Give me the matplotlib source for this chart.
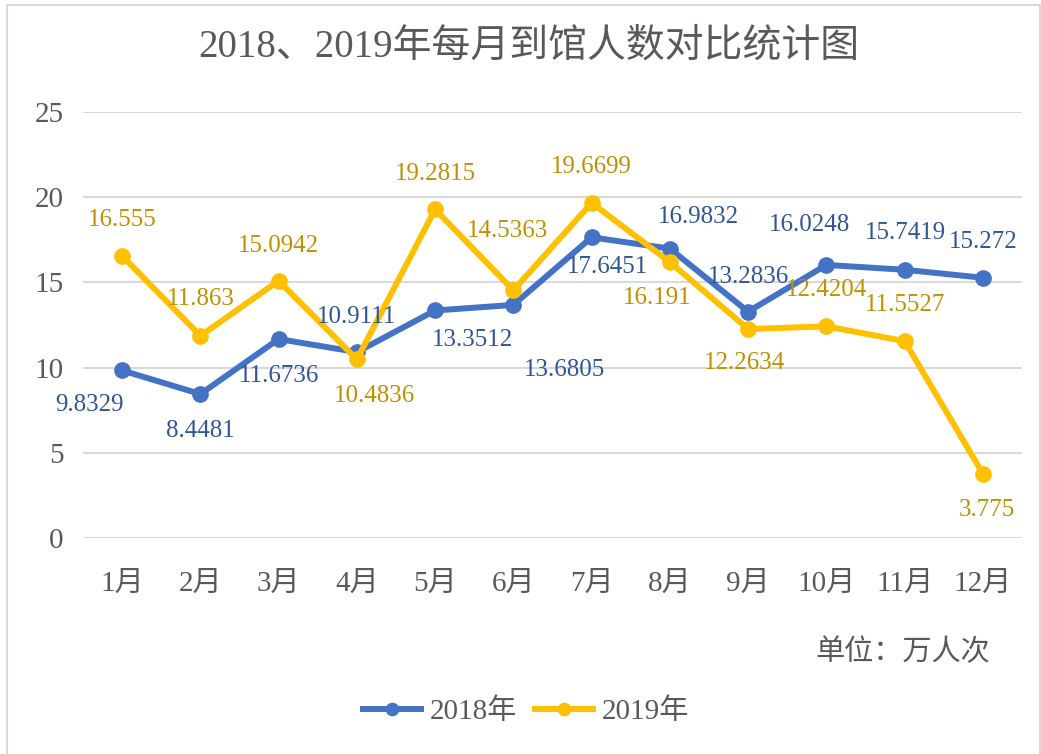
import matplotlib.pyplot as plt
from matplotlib.patches import Rectangle

plt.rcParams['font.family'] = ['Liberation Serif', 'Noto Sans CJK SC', 'DejaVu Sans']

months = ['1月', '2月', '3月', '4月', '5月', '6月', '7月', '8月', '9月', '10月', '11月', '12月']
v2018 = [9.8329, 8.4481, 11.6736, 10.9111, 13.3512, 13.6805, 17.6451, 16.9832, 13.2836, 16.0248, 15.7419, 15.272]
v2019 = [16.555, 11.863, 15.0942, 10.4836, 19.2815, 14.5363, 19.6699, 16.191, 12.2634, 12.4204, 11.5527, 3.775]
lab2018 = ['9.8329', '8.4481', '11.6736', '10.9111', '13.3512', '13.6805', '17.6451', '16.9832', '13.2836', '16.0248', '15.7419', '15.272']
lab2019 = ['16.555', '11.863', '15.0942', '10.4836', '19.2815', '14.5363', '19.6699', '16.191', '12.2634', '12.4204', '11.5527', '3.775']

# label offsets in pixels (dx, dy), picked to match the original placement
off2018 = [(-33, -35), (0, -37), (0, -37), (0, 35), (37, -30), (51, -65),
           (16, -30), (29, 32), (0, 35), (-17, 40), (1, 37), (0, 36)]
off2019 = [(0, 36), (0, 37), (0, 35), (18, -37), (0, 35), (-6, 59),
           (0, 36), (-13, -36), (-4, -34), (0, 36), (0, 36), (4, -36)]

blue = '#4472C4'
gold = '#FFC000'
txt = '#595959'

fig = plt.figure(figsize=(10.41, 7.54), dpi=100)
fig.patches.append(Rectangle((7 / 1041, -0.01), 1033 / 1041, 1 - 5 / 754 + 0.01,
                             transform=fig.transFigure, fill=False,
                             edgecolor='#D9D9D9', linewidth=1.5))

ax = fig.add_axes([83 / 1041, 216 / 754, 939 / 1041, 426 / 754])
x = list(range(len(months)))
ax.plot(x, v2018, color=blue, lw=4.3, marker='o', ms=11, label='2018年', zorder=3)
ax.plot(x, v2019, color=gold, lw=4.3, marker='o', ms=11, label='2019年', zorder=3)

for i in x:
    ax.annotate(lab2018[i], (i, v2018[i]), xytext=off2018[i], textcoords='offset pixels',
                ha='center', va='center', fontsize=18, color='#2F5597', zorder=4)
    ax.annotate(lab2019[i], (i, v2019[i]), xytext=off2019[i], textcoords='offset pixels',
                ha='center', va='center', fontsize=18, color='#BF9000', zorder=4)

ax.set_xlim(-0.5, 11.5)
ax.set_ylim(0, 25)
ax.set_yticks([0, 5, 10, 15, 20, 25])
ax.set_xticks(x)
ax.set_xticklabels(months)
ax.tick_params(axis='both', length=0, labelsize=21, colors=txt)
ax.tick_params(axis='x', pad=24)
ax.tick_params(axis='y', pad=14)
ax.grid(axis='y', color='#D9D9D9', lw=1.5)
ax.set_axisbelow(True)
for s in ax.spines.values():
    s.set_visible(False)

fig.text(529 / 1041, 1 - 47 / 754, '2018、2019年每月到馆人数对比统计图',
         ha='center', va='center', fontsize=28, color=txt)
fig.text(990 / 1041, 1 - 652 / 754, '单位：万人次', ha='right', va='center',
         fontsize=21, color=txt)

fig.legend(loc='center', bbox_to_anchor=(526 / 1041, 1 - 712 / 754), ncol=2,
           frameon=False, fontsize=21, handlelength=2.0, handletextpad=0.3,
           columnspacing=0.6, labelcolor=txt, markerscale=0.8)

fig.savefig('out.png', dpi=100)
